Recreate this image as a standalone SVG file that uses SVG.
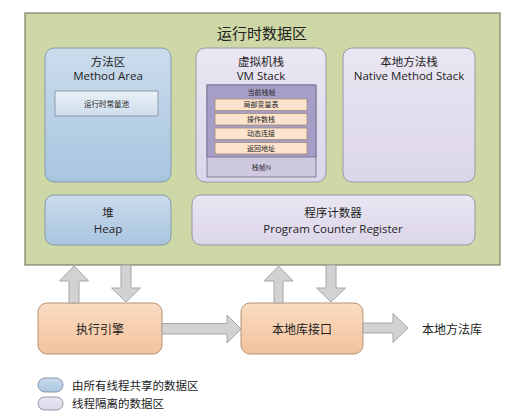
<svg xmlns="http://www.w3.org/2000/svg" width="527" height="420" viewBox="0 0 527 420">
<defs>
<linearGradient id="gBlue" x1="0" y1="0" x2="0" y2="1"><stop offset="0" stop-color="#cbdcec"/><stop offset="1" stop-color="#a8c5e0"/></linearGradient>
<linearGradient id="gPurple" x1="0" y1="0" x2="0" y2="1"><stop offset="0" stop-color="#eae6f2"/><stop offset="1" stop-color="#dcd6ea"/></linearGradient>
<linearGradient id="gOrange" x1="0" y1="0" x2="0" y2="1"><stop offset="0" stop-color="#fadcc2"/><stop offset="1" stop-color="#f2c29c"/></linearGradient>
<linearGradient id="gPool" x1="0" y1="0" x2="0" y2="1"><stop offset="0" stop-color="#e8f0f7"/><stop offset="1" stop-color="#cfdeec"/></linearGradient>
<style>
text{font-family:"Open Sans","Noto Sans CJK SC",sans-serif;fill:#222;text-anchor:middle;dominant-baseline:central}
.t12{font-size:12px}
.t11{font-size:11.5px}
.t7{font-size:7px}
.blue{fill:url(#gBlue);stroke:#8899aa;stroke-width:1}
.purple{fill:url(#gPurple);stroke:#9a97a6;stroke-width:1}
.orange{fill:url(#gOrange);stroke:#b39478;stroke-width:1}
.arrow{fill:#d2d2d2;stroke:#a6a6a6;stroke-width:1}
.row{fill:#fbe3cd;stroke:#a58a78;stroke-width:0.8}
</style>
</defs>
<g id="runtime-data-area">
<rect x="25" y="13" width="475" height="252" fill="#cdd8a6" stroke="#7d7f68" stroke-width="1.2"/>
<text x="262" y="33" style="font-size:15px">运行时数据区</text>
</g>
<g id="method-area">
<rect x="45" y="48" width="126" height="134" rx="9" class="blue"/>
<text x="108" y="61.5" class="t11">方法区</text>
<text x="108" y="75.5" class="t11">Method Area</text>
<rect x="55" y="91" width="103" height="25" fill="url(#gPool)" stroke="#7f8c99" stroke-width="0.8"/>
<text x="106.5" y="103.5" style="font-size:7.5px">运行时常量池</text>
</g>
<g id="vm-stack">
<rect x="196" y="48" width="130" height="134" rx="9" class="purple"/>
<text x="261" y="61.5" class="t11">虚拟机栈</text>
<text x="261" y="75.5" class="t11">VM Stack</text>
<rect x="207" y="85" width="109" height="92" fill="#cec8e0" stroke="#6f6a8a" stroke-width="0.8"/>
<rect x="207" y="85" width="109" height="72" fill="#a69ec6" stroke="#6f6a8a" stroke-width="0.8"/>
<text x="261.5" y="92" class="t7">当前栈帧</text>
<rect x="215" y="99" width="92" height="11.5" class="row"/>
<text x="261" y="104.8" class="t7">局部变量表</text>
<rect x="215" y="113.5" width="92" height="11.5" class="row"/>
<text x="261" y="119.3" class="t7">操作数栈</text>
<rect x="215" y="128" width="92" height="11.5" class="row"/>
<text x="261" y="133.8" class="t7">动态连接</text>
<rect x="215" y="142.5" width="92" height="11.5" class="row"/>
<text x="261" y="148.3" class="t7">返回地址</text>
<text x="261.5" y="167" class="t7">栈帧N</text>
</g>
<g id="native-method-stack">
<rect x="343" y="48" width="132" height="134" rx="9" class="purple"/>
<text x="409" y="61.5" class="t11">本地方法栈</text>
<text x="409" y="75.5" class="t11">Native Method Stack</text>
</g>
<g id="heap">
<rect x="45" y="195" width="126" height="50" rx="9" class="blue"/>
<text x="108" y="212.5" class="t11">堆</text>
<text x="108" y="228" class="t11">Heap</text>
</g>
<g id="program-counter">
<rect x="192" y="195" width="283" height="50" rx="9" class="purple"/>
<text x="333" y="212.5" class="t11">程序计数器</text>
<text x="333" y="228" class="t11">Program Counter Register</text>
</g>
<g id="execution-engine">
<rect x="38" y="303" width="124" height="51" rx="9" class="orange"/>
<text x="100" y="329" class="t12">执行引擎</text>
</g>
<g id="native-interface">
<rect x="241" y="303" width="122" height="51" rx="9" class="orange"/>
<text x="302" y="329" class="t12">本地库接口</text>
</g>
<g id="native-library">
<text x="452" y="329" class="t12">本地方法库</text>
</g>
<g id="connectors">
<polygon class="arrow" points="69,303 69,281 59.5,281 74,266 88.5,281 79,281 79,303"/>
<polygon class="arrow" points="121,265 131,265 131,288 140.5,288 126,302 111.5,288 121,288"/>
<polygon class="arrow" points="274,303 274,281 264,281 278.5,266 293,281 283,281 283,303"/>
<polygon class="arrow" points="326,265 336,265 336,288 345.5,288 331,302 316.5,288 326,288"/>
<polygon class="arrow" points="162,323.5 227,323.5 227,315 241,329 227,343 227,334 162,334"/>
<polygon class="arrow" points="363,323 393,323 393,313.5 408,328 393,342.5 393,333 363,333"/>
</g>
<g id="legend">
<rect x="38" y="378" width="25" height="14" rx="7" class="blue"/>
<text x="72" y="385" class="t11" style="text-anchor:start">由所有线程共享的数据区</text>
<rect x="38" y="397" width="25" height="13" rx="6.5" class="purple"/>
<text x="72" y="403.5" class="t11" style="text-anchor:start">线程隔离的数据区</text>
</g>
</svg>
